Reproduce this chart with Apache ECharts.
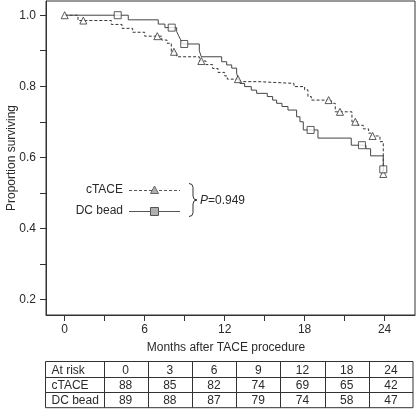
<!DOCTYPE html>
<html>
<head>
<meta charset="utf-8">
<script src="https://cdn.jsdelivr.net/npm/echarts@6/dist/echarts.min.js"></script>
<style>html,body{margin:0;padding:0;background:#fff}#c{width:416px;height:418px}</style>
</head>
<body>
<div id="c"></div>
<script>
// ---- data ----
const ctaceSteps = [[0,1.0],[1.0,0.985],[3.5,0.974],[4.3,0.963],[5.1,0.952],[6.0,0.941],[7.28,0.930],[7.68,0.921],[8.0,0.897],[8.4,0.883],[10.1,0.871],[10.6,0.861],[11.1,0.850],[11.5,0.839],[12.0,0.829],[12.2,0.820],[13.15,0.813],[14.5,0.808],[17.2,0.799],[18.0,0.790],[18.25,0.771],[18.5,0.761],[20.0,0.752],[20.3,0.728],[21.55,0.700],[22.0,0.690],[22.4,0.680],[22.8,0.668],[23.0,0.660],[23.65,0.644],[23.9,0.553]];
const ctaceCensor = [[0,1.0],[1.4,0.985],[6.95,0.941],[8.2,0.897],[10.25,0.871],[13.0,0.820],[19.8,0.761],[20.65,0.728],[21.8,0.700],[23.1,0.660],[23.9,0.553]];
const dcSteps = [[0,1.0],[4.77,0.987],[7.02,0.975],[7.52,0.965],[8.4,0.954],[8.55,0.942],[8.7,0.931],[8.85,0.919],[10.1,0.900],[10.25,0.883],[11.78,0.869],[12.15,0.860],[12.53,0.851],[12.9,0.837],[13.0,0.823],[13.15,0.808],[13.5,0.799],[14.0,0.789],[14.4,0.780],[15.2,0.771],[15.6,0.761],[15.9,0.752],[16.3,0.743],[16.75,0.733],[17.4,0.714],[17.65,0.700],[17.9,0.677],[19.0,0.654],[21.5,0.634],[22.6,0.624],[22.95,0.604],[23.9,0.566]];
const dcCensor = [[3.98,1.0],[8.03,0.965],[8.97,0.919],[18.45,0.677],[22.3,0.634],[23.9,0.566]];
const xTicks = [0,3,6,9,12,15,18,21,24];
const xLabels = [0,6,12,18,24];
const yTicks = [0.2,0.3,0.4,0.5,0.6,0.7,0.8,0.9,1.0];
const yLabels = [0.2,0.4,0.6,0.8,1.0];
const riskHeader = ['At risk','0','3','6','9','12','18','24'];
const riskCtace = ['cTACE',88,85,82,74,69,65,42];
const riskDc = ['DC bead',89,88,87,79,74,58,47];

const FONT = 'Liberation Sans, Arial, Helvetica, sans-serif';
const INK = '#2a2a2a';

// ---- table graphic ----
const tLeft = 45.5, tTop = 361.5, rowH = 15.4, firstW = 58, colW = (413 - 45.5 - 58) / 7;
const tRight = 413;
const tableEls = [];
const tBottom = tTop + 3 * rowH;
tableEls.push({type:'rect', shape:{x:tLeft, y:tTop, width:tRight - tLeft, height:tBottom - tTop}, style:{fill:'none', stroke:'#333', lineWidth:1}});
for (let r = 1; r < 3; r++) {
  const y = Math.round(tTop + r * rowH) + 0.5;
  tableEls.push({type:'line', shape:{x1:tLeft, y1:y, x2:tRight, y2:y}, style:{stroke:'#333', lineWidth:1}});
}
for (let c = 0; c < 7; c++) {
  const x = Math.round(tLeft + firstW + c * colW) + 0.5;
  tableEls.push({type:'line', shape:{x1:x, y1:tTop, x2:x, y2:tBottom}, style:{stroke:'#333', lineWidth:1}});
}
[riskHeader, riskCtace, riskDc].forEach((row, r) => {
  const cy = tTop + r * rowH + rowH / 2 + 1;
  row.forEach((v, c) => {
    if (c === 0) {
      tableEls.push({type:'text', x:tLeft + 6, y:cy, style:{text:String(v), font:'12px ' + FONT, fill:INK, align:'left', verticalAlign:'middle'}});
    } else {
      const cx = tLeft + firstW + (c - 1) * colW + colW / 2;
      tableEls.push({type:'text', x:cx, y:cy, style:{text:String(v), font:'12px ' + FONT, fill:INK, align:'center', verticalAlign:'middle'}});
    }
  });
});

// ---- legend graphic ----
const braceStyle = {fill:'none', stroke:'#333', lineWidth:1};
const legendEls = [
  {type:'text', x:123, y:190, style:{text:'cTACE', font:'12px ' + FONT, fill:INK, align:'right', verticalAlign:'middle'}},
  {type:'text', x:123, y:211, style:{text:'DC bead', font:'12px ' + FONT, fill:INK, align:'right', verticalAlign:'middle'}},
  {type:'line', shape:{x1:129, y1:190.5, x2:180, y2:190.5}, style:{stroke:'#555', lineWidth:1, lineDash:[3,2]}},
  {type:'line', shape:{x1:129, y1:211.5, x2:180, y2:211.5}, style:{stroke:'#555', lineWidth:1}},
  {type:'polygon', shape:{points:[[154.5,186],[150.5,193.5],[158.5,193.5]]}, style:{fill:'#b0b0b0', stroke:'#666', lineWidth:1}, z:5},
  {type:'rect', shape:{x:150.5, y:207.5, width:8, height:8}, style:{fill:'#b0b0b0', stroke:'#555', lineWidth:1}, z:5},
  {type:'bezierCurve', shape:{x1:189, y1:183.5, cpx1:193, cpy1:183.5, x2:193, y2:187.5}, style:braceStyle},
  {type:'line', shape:{x1:193, y1:187.5, x2:193, y2:196}, style:braceStyle},
  {type:'bezierCurve', shape:{x1:193, y1:196, cpx1:193, cpy1:200, x2:197, y2:200}, style:braceStyle},
  {type:'bezierCurve', shape:{x1:197, y1:200, cpx1:193, cpy1:200, x2:193, y2:204}, style:braceStyle},
  {type:'line', shape:{x1:193, y1:204, x2:193, y2:212.5}, style:braceStyle},
  {type:'bezierCurve', shape:{x1:193, y1:212.5, cpx1:193, cpy1:216.5, x2:189, y2:216.5}, style:braceStyle},
  {type:'text', x:200, y:200.5, style:{text:'{i|P}=0.949', font:'12px ' + FONT, fill:INK, align:'left', verticalAlign:'middle', rich:{i:{fontStyle:'italic', fontSize:12, fontFamily:FONT, fill:INK}}}}
];

const chart = echarts.init(document.getElementById('c'), null, {renderer:'canvas'});
chart.setOption({
  animation:false,
  backgroundColor:'#fff',
  textStyle:{fontFamily:FONT},
  grid:{left:46, right:1, top:1, bottom:103, containLabel:false, outerBoundsMode:'none', show:true, borderColor:'#333', borderWidth:1, backgroundColor:'transparent'},
  xAxis:{
    type:'value', min:-1.4, max:26.28,
    name:'Months after TACE procedure', nameLocation:'middle', nameGap:27, nameMoveOverlap:false,
    nameTextStyle:{fontSize:12, color:INK, fontFamily:FONT, padding:[0,9,0,0]},
    axisLine:{show:true, onZero:false, lineStyle:{color:'#333', width:1}},
    axisTick:{show:true, inside:false, length:6, customValues:xTicks, lineStyle:{color:'#333'}},
    axisLabel:{customValues:xLabels, margin:9, fontSize:12, color:INK, fontFamily:FONT},
    splitLine:{show:false}
  },
  yAxis:{
    type:'value', min:0.156, max:1.040,
    name:'Proportion surviving', nameLocation:'middle', nameGap:28, nameMoveOverlap:false,
    nameTextStyle:{fontSize:12, color:INK, fontFamily:FONT},
    axisLine:{show:true, onZero:false, lineStyle:{color:'#333', width:1}},
    axisTick:{show:true, inside:false, length:6, customValues:yTicks, lineStyle:{color:'#333'}},
    axisLabel:{customValues:yLabels, margin:10, fontSize:12, color:INK, fontFamily:FONT, formatter:v => v.toFixed(1)},
    splitLine:{show:false}
  },
  series:[
    {name:'cTACE', type:'line', step:'end', data:ctaceSteps, symbol:'none', showSymbol:false, lineStyle:{color:'#333', width:1, type:[3,2]}, z:2},
    {name:'DC bead', type:'line', step:'end', data:dcSteps, symbol:'none', showSymbol:false, lineStyle:{color:'#444', width:1}, z:2},
    {name:'cTACE censored', type:'scatter', data:ctaceCensor, symbol:'triangle', symbolSize:7, itemStyle:{color:'#fff', borderColor:'#333', borderWidth:1}, z:4},
    {name:'DC bead censored', type:'scatter', data:dcCensor, symbol:'rect', symbolSize:7, itemStyle:{color:'#fff', borderColor:'#333', borderWidth:1}, z:4}
  ],
  graphic:[...legendEls, ...tableEls]
});
</script>
</body>
</html>
